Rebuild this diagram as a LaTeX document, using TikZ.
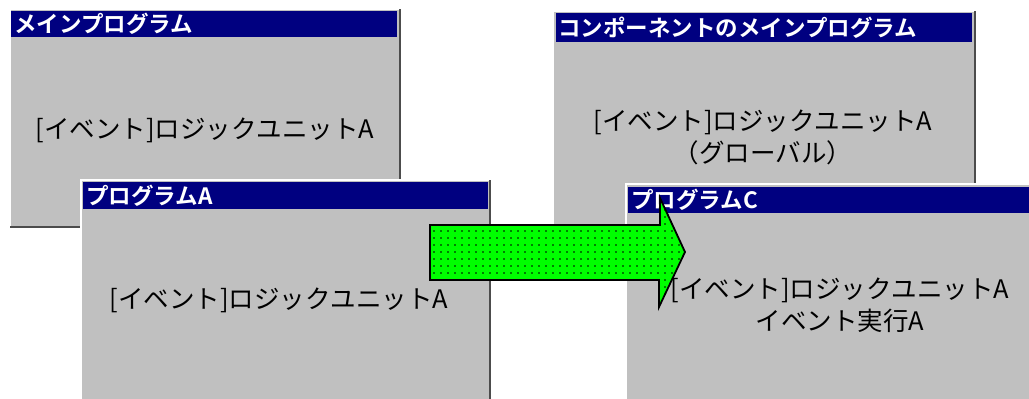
\documentclass[tikz,border=0pt]{standalone}
\usepackage{fontspec}
\newfontfamily\jpfont{Noto Sans CJK JP}[BoldFont={Noto Sans CJK JP Bold}]
\usetikzlibrary{patterns.meta}
\definecolor{titleblue}{RGB}{0,0,128}
\definecolor{wingray}{RGB}{192,192,192}
\definecolor{arrowgreen}{RGB}{0,255,0}
\tikzset{>=latex}
\tikzstyle{winbody}=[fill=wingray]
\tikzstyle{winlight}=[draw=white,line width=1.2]
\tikzstyle{winshade}=[draw=gray!60!black,line width=1.2]
\tikzstyle{titlebar}=[fill=titleblue]
\tikzstyle{titletext}=[anchor=west,text=white,inner sep=0pt,
                       font=\jpfont\bfseries\fontsize{22.5}{22.5}\selectfont]
\tikzstyle{bodytext}=[align=center,inner sep=0pt,
                      font=\jpfont\fontsize{25.5}{32}\selectfont]
\tikzstyle{bigarrow}=[draw=black,line width=1.8,line join=miter,fill=arrowgreen,
                      postaction={pattern={Dots[distance=7pt,radius=0.8pt]},pattern color=black}]

\begin{document}
\begin{tikzpicture}[x=1pt,y=-1pt]
  \useasboundingbox[fill=white] (0,0) rectangle (1029,399);

    % main program window
    \fill[winbody] (10,9) rectangle (400,227);
    \draw[winlight] (10,227) -- (10,9) -- (400,9);
    \draw[winshade] (400,9) -- (400,227) -- (10,227);
    \fill[titlebar] (11,11) rectangle (397,37);
    \node[titletext] (maintitle) at (14,24) {メインプログラム};
    \node[bodytext] (mainunit) at (205,130) {[イベント]ロジックユニットA};

    % program A window
    \fill[winbody] (81,180) rectangle (490,399);
    \draw[winlight] (81,399) -- (81,180) -- (490,180);
    \draw[winshade] (490,180) -- (490,399);
    \fill[titlebar] (83,182) rectangle (488,209);
    \node[titletext] (progatitle) at (86,195.5) {プログラムA};
    \node[bodytext] (progaunit) at (279,300) {[イベント]ロジックユニットA};

    % component main program window
    \fill[winbody] (553,11) rectangle (975,250);
    \draw[winlight] (553,250) -- (553,11) -- (975,11);
    \draw[winshade] (975,11) -- (975,250);
    \fill[titlebar] (556,13) rectangle (972,42);
    \node[titletext] (comptitle) at (558,27.5) {コンポーネントのメインプログラム};
    \node[bodytext] (compunit) at (763,137) {[イベント]ロジックユニットA\\（グローバル）};

    % program C window
    \fill[winbody] (626,184) rectangle (1029,399);
    \draw[winlight] (626,399) -- (626,184) -- (1029,184);
    \fill[titlebar] (628,187) rectangle (1029,213);
    \node[titletext] (progctitle) at (631,200) {プログラムC};
    \node[bodytext] (progcunit) at (840,305) {[イベント]ロジックユニットA\\イベント実行A};

    % copy arrow
    \draw[bigarrow] (430,225) -- (660,225) -- (660,198) -- (685,252)
      -- (659,307) -- (659,280) -- (430,280) -- cycle;

\end{tikzpicture}
\end{document}
